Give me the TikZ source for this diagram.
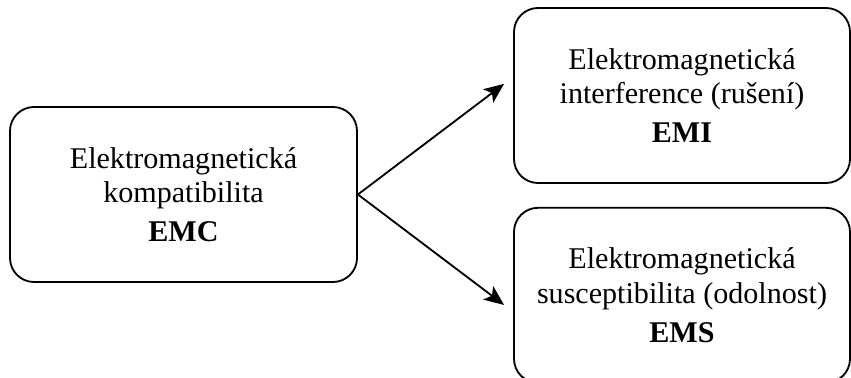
\documentclass[tikz,border=0pt]{standalone}
\usepackage{fontspec}
\setmainfont{Liberation Serif}
\usetikzlibrary{arrows.meta, positioning}

\begin{document}
\begin{tikzpicture}[%
    ,>={Stealth[length=5mm,width=4.2mm,inset=1.2mm]}
    ,line width=1.3pt
    ,block/.style = {%
        ,draw
        ,rounded corners=6mm
        ,minimum height=43.75mm,minimum width=84mm
        ,align=center
        ,font=\fontsize{21.4}{24.6}\selectfont
        }
    ]
\useasboundingbox (0,0) rectangle (21.275,-9.45);

\node (emc) [block, minimum width=86.75mm] at (4.5875,-4.8625)
    {Elektromagnetická\\kompatibilita\\[3pt]\textbf{EMC}};
\node (emi) [block] at (17.05,-2.3875)
    {Elektromagnetická\\interference (rušení)\\[3pt]\textbf{EMI}};
\node (ems) [block, below=5.75mm of emi]
    {Elektromagnetická\\susceptibilita (odolnost)\\[3pt]\textbf{EMS}};

% arrows from EMC
\draw[->] (emc.east) -- ([xshift=-2.25mm,yshift=2.9mm]emi.west);
\draw[->] (emc.east) -- ([xshift=-2.25mm,yshift=-2.4mm]ems.west);
\end{tikzpicture}
\end{document}
